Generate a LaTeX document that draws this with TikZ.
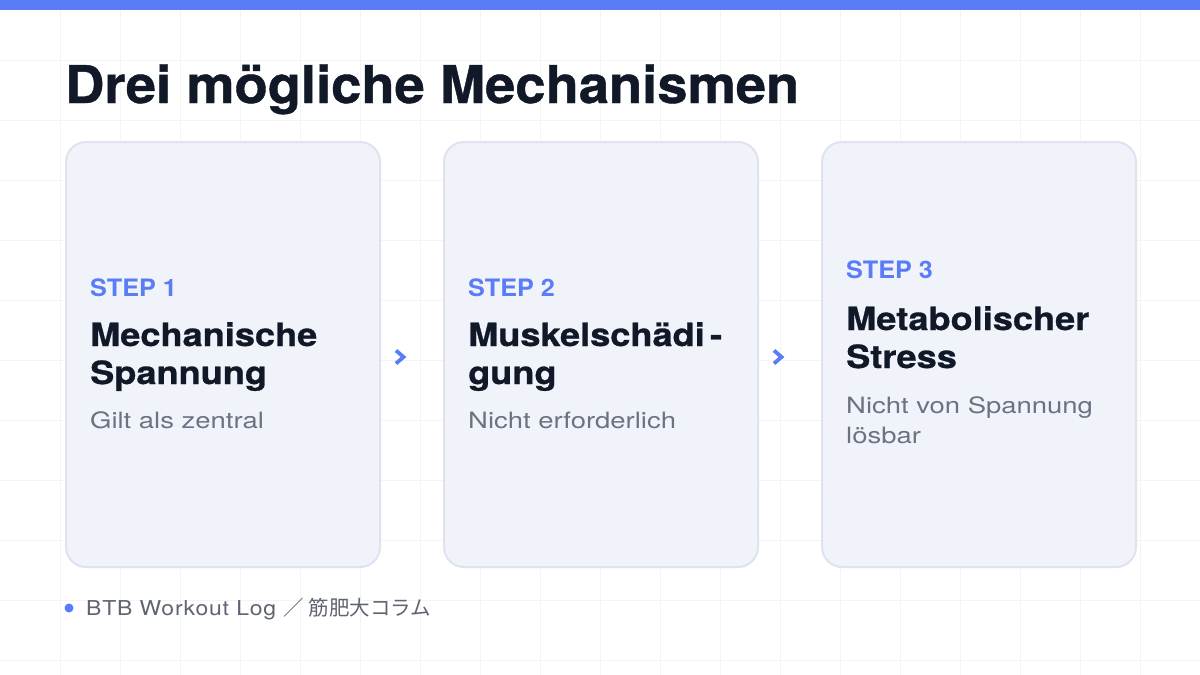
\documentclass[tikz,border=0pt]{standalone}
\usepackage{fontspec}
\setmainfont{TeX Gyre Heros}
\newfontfamily\titlefont[FakeStretch=1.045,FakeBold=0.8]{TeX Gyre Heros}
\newfontfamily\headfont[FakeStretch=1.13,FakeBold=0.8]{TeX Gyre Heros}
\newfontfamily\stepfont[FakeStretch=1.05]{TeX Gyre Heros}
\newfontfamily\descfont[FakeStretch=1.22]{TeX Gyre Heros}
\newfontfamily\footfont[FakeStretch=1.12,LetterSpace=4]{TeX Gyre Heros}
\newfontfamily\cjkfont{Noto Sans CJK JP}
\definecolor{accent}{HTML}{5B7CF7}
\definecolor{ink}{HTML}{111827}
\definecolor{muted}{HTML}{6B7280}
\definecolor{foot}{HTML}{5F6471}
\definecolor{gridc}{HTML}{F3F4F6}
\definecolor{cardfill}{HTML}{F1F3FB}
\definecolor{cardline}{HTML}{E0E3EF}
\tikzset{
  card/.style={draw=cardline, line width=2pt, fill=cardfill, rounded corners=20pt, minimum width=314pt, minimum height=425pt, anchor=north west, inner sep=0pt},
  steplabel/.style={anchor=base west, inner sep=0pt, text=accent, font=\stepfont\fontsize{24}{28}\selectfont\bfseries},
  cardtitle/.style={anchor=base west, inner sep=0pt, text=ink, align=left, font=\headfont\fontsize{32}{38}\selectfont\bfseries},
  carddesc/.style={anchor=base west, inner sep=0pt, text=muted, align=left, font=\descfont\fontsize{22.5}{30}\selectfont},
  chev/.style={draw=accent, line width=3.8pt, line cap=butt, line join=miter},
}
\begin{document}
\begin{tikzpicture}[x=1pt,y=-1pt]
\useasboundingbox (0,0) rectangle (1200,675);
\fill[white] (0,0) rectangle (1200,675);
% grid
\foreach \gx in {60,120,...,1140} \draw[gridc, line width=1pt] (\gx,0) -- (\gx,675);
\foreach \gy in {60,120,...,660} \draw[gridc, line width=1pt] (0,\gy) -- (1200,\gy);
% top bar
\fill[accent] (0,0) rectangle (1200,10);
% title
\node[anchor=base west, inner sep=0pt, text=ink, font=\titlefont\fontsize{52}{60}\selectfont\bfseries] (title) at (65,103) {Drei mögliche Mechanismen};
% cards
\node[card] (card1) at (65,141) {};
\node[card] (card2) at (443,141) {};
\node[card] (card3) at (821,141) {};
% card 1
\node[steplabel] (s1) at (90,296) {STEP 1};
\node[cardtitle] (t1a) at (90,346) {Mechanische};
\node[cardtitle] (t1b) at (90,384) {Spannung};
\node[carddesc] (d1) at (90,428) {Gilt als zentral};
% card 2
\node[steplabel] (s2) at (468,296) {STEP 2};
\node[cardtitle] (t2a) at (468,346) {Muskelschädi\,-};
\node[cardtitle] (t2b) at (468,384) {gung};
\node[carddesc] (d2) at (468,428) {Nicht erforderlich};
% card 3
\node[steplabel] (s3) at (846,278) {STEP 3};
\node[cardtitle] (t3a) at (846,330) {Metabolischer};
\node[cardtitle] (t3b) at (846,368) {Stress};
\node[carddesc] (d3a) at (846,413) {Nicht von Spannung};
\node[carddesc] (d3b) at (846,443) {lösbar};
% chevrons between cards
\coordinate (ch1) at (401,357);
\coordinate (ch2) at (779,357);
\draw[chev] ([xshift=-5pt,yshift=-6.5pt]ch1) -- ([xshift=2.5pt]ch1) -- ([xshift=-5pt,yshift=6.5pt]ch1);
\draw[chev] ([xshift=-5pt,yshift=-6.5pt]ch2) -- ([xshift=2.5pt]ch2) -- ([xshift=-5pt,yshift=6.5pt]ch2);
% footer
\fill[accent] (69,608) circle (4.5pt);
\node[anchor=base west, inner sep=0pt, text=foot, font=\fontsize{20.5}{24}\selectfont] (footer) at (86,615) {\footfont BTB Workout Log \cjkfont ／ 筋肥大コラム};
\end{tikzpicture}
\end{document}
